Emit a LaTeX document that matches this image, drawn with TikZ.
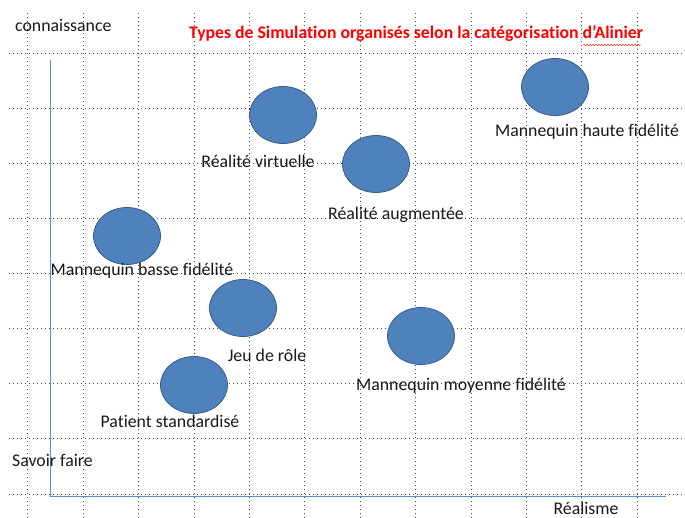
\documentclass[tikz,border=0pt]{standalone}
\usepackage{fontspec}
\setmainfont{Carlito}[Ligatures=NoCommon]
\usetikzlibrary{decorations.pathmorphing,shapes.geometric}
\definecolor{ballfill}{HTML}{4F81BD}
\definecolor{balledge}{HTML}{385D8A}
\definecolor{axisblue}{HTML}{5B8BD0}
\definecolor{titlered}{HTML}{FF0000}
\begin{document}
\begin{tikzpicture}[x=1pt,y=-1pt,
  gridline/.style={draw=black!70,line width=0.6pt,dash pattern=on 0.8pt off 3.2pt},
  ball/.style={ellipse,draw=balledge,line width=0.8pt,fill=ballfill,minimum width=67pt,minimum height=57pt,inner sep=0pt},
  lbl/.style={font=\fontsize{17.8}{20}\selectfont,inner sep=0pt,text=black!90},
  axisline/.style={draw=axisblue,line width=0.9pt}]
\useasboundingbox[fill=white] (0,0) rectangle (685,518);
% grid
\foreach \gx in {27.5,83,138.4,193.8,249.2,304.6,360,415.4,470.8,526.2,581.6,637}
  \draw[gridline] (\gx,13) -- (\gx,518);
\foreach \gy in {53,108,163,218,273,328,383,438,494}
  \draw[gridline] (9,\gy) -- (685,\gy);
% axes
\coordinate (origin) at (50,496);
\coordinate (ytop) at (50,60);
\coordinate (xend) at (666,496);
\draw[axisline] (ytop) -- (origin) -- (xend);
% balls
\node[ball] (rv) at (283,115) {};
\node[ball] (hf) at (555,87) {};
\node[ball] (ra) at (376,164) {};
\node[ball] (bf) at (127,236) {};
\node[ball] (jr) at (243,308) {};
\node[ball] (mf) at (421,336) {};
\node[ball] (ps) at (194,385) {};
% labels
\node[lbl] (lrv) at (258,161) {Réalité virtuelle};
\node[lbl] (lhf) at (587,132) {Mannequin haute fidélité};
\node[lbl] (lra) at (396,215) {Réalité augmentée};
\node[lbl] (lbf) at (142,271) {Mannequin basse fidélité};
\node[lbl] (ljr) at (267,355) {Jeu de rôle};
\node[lbl] (lmf) at (461,386) {Mannequin moyenne fidélité};
\node[lbl] (lps) at (170,421) {Patient standardisé};
\node[lbl,anchor=west] (lsf) at (12,460) {Savoir faire};
\node[lbl,anchor=west] (lco) at (15,25) {connaissance};
\node[lbl] (lre) at (586,508) {Réalisme};
\node[font=\fontsize{17.7}{20}\selectfont\bfseries,text=titlered,inner sep=0pt] (title) at (416,34) {Types de Simulation organisés selon la catégorisation d’Alinier};
\coordinate (wv1) at (583,45);
\coordinate (wv2) at (641,45);
\draw[titlered!80,line width=0.5pt,decorate,decoration={snake,amplitude=0.8pt,segment length=3pt}] (wv1) -- (wv2);
\end{tikzpicture}
\end{document}
